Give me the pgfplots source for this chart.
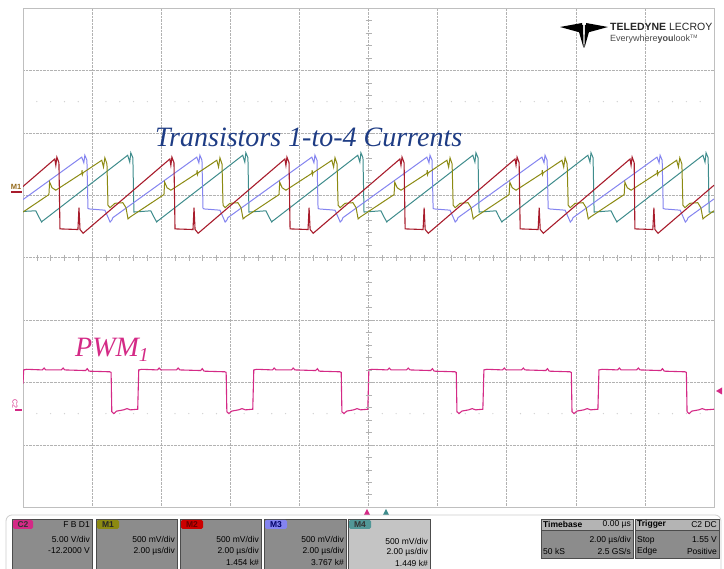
\documentclass[border=0pt]{standalone}
\usepackage{pgfplots}
\pgfplotsset{compat=1.18}
\usepackage{fontspec}
\setmainfont{Liberation Serif}
\newfontfamily\arial{Liberation Sans}
\definecolor{cRed}{HTML}{A81C2C}
\definecolor{cOlive}{HTML}{8C8A12}
\definecolor{cLav}{HTML}{8484F0}
\definecolor{cTeal}{HTML}{3E8C8C}
\definecolor{cPWM}{HTML}{D42A86}
\definecolor{cTitle}{HTML}{1E3C84}
\definecolor{boxgray}{HTML}{8C8C8C}
\definecolor{boxlight}{HTML}{C4C4C4}
\definecolor{hdrgray}{HTML}{B4B4B4}
\begin{document}
\begin{tikzpicture}
\path[use as bounding box, fill=white] (0,0) rectangle (724bp,569bp);
\begin{axis}[at={(23bp,61.8bp)}, anchor=south west, scale only axis,
  width=691bp, height=499.2bp,
  xmin=-10, xmax=10, ymin=-4, ymax=4,
  xtick={-8,-6,...,8}, ytick={-3,-2,...,3},
  x tick label style={opacity=0}, y tick label style={opacity=0},
  major tick length=0pt,
  grid=major, major grid style={densely dotted, gray!60, line width=0.55pt},
  axis line style={gray!50, line width=0.9pt},
  clip=true]
% PWM1 (C2)
\addplot[cPWM, line width=1.1pt] coordinates {
(-10.00,-2.02) (-9.98,-1.80) (-9.89,-1.79) (-9.44,-1.80) (-9.39,-1.77) (-9.34,-1.80) (-8.89,-1.80) (-8.84,-1.77) (-8.79,-1.80) (-8.19,-1.81) (-8.14,-1.78) (-8.09,-1.82) (-7.49,-1.83) (-7.45,-1.84) (-7.43,-2.47) (-7.37,-2.50) (-7.29,-2.46) (-7.09,-2.44) (-6.99,-2.42) (-6.89,-2.44) (-6.68,-2.43)
(-6.65,-1.80) (-6.56,-1.79) (-6.11,-1.80) (-6.06,-1.77) (-6.01,-1.80) (-5.56,-1.80) (-5.51,-1.77) (-5.46,-1.80) (-4.86,-1.81) (-4.81,-1.78) (-4.76,-1.82) (-4.16,-1.83) (-4.12,-1.84) (-4.10,-2.47) (-4.04,-2.50) (-3.96,-2.46) (-3.76,-2.44) (-3.66,-2.42) (-3.56,-2.44) (-3.35,-2.43)
(-3.32,-1.80) (-3.23,-1.79) (-2.78,-1.80) (-2.73,-1.77) (-2.68,-1.80) (-2.23,-1.80) (-2.18,-1.77) (-2.13,-1.80) (-1.53,-1.81) (-1.48,-1.78) (-1.43,-1.82) (-0.83,-1.83) (-0.79,-1.84) (-0.77,-2.47) (-0.71,-2.50) (-0.63,-2.46) (-0.43,-2.44) (-0.33,-2.42) (-0.23,-2.44) (-0.02,-2.43)
(0.01,-1.80) (0.10,-1.79) (0.55,-1.80) (0.60,-1.77) (0.65,-1.80) (1.10,-1.80) (1.15,-1.77) (1.20,-1.80) (1.80,-1.81) (1.85,-1.78) (1.90,-1.82) (2.50,-1.83) (2.54,-1.84) (2.56,-2.47) (2.62,-2.50) (2.70,-2.46) (2.90,-2.44) (3.00,-2.42) (3.10,-2.44) (3.31,-2.43)
(3.34,-1.80) (3.43,-1.79) (3.88,-1.80) (3.93,-1.77) (3.98,-1.80) (4.43,-1.80) (4.48,-1.77) (4.53,-1.80) (5.13,-1.81) (5.18,-1.78) (5.23,-1.82) (5.83,-1.83) (5.87,-1.84) (5.89,-2.47) (5.95,-2.50) (6.03,-2.46) (6.23,-2.44) (6.33,-2.42) (6.43,-2.44) (6.64,-2.43)
(6.67,-1.80) (6.76,-1.79) (7.21,-1.80) (7.26,-1.77) (7.31,-1.80) (7.76,-1.80) (7.81,-1.77) (7.86,-1.80) (8.46,-1.81) (8.51,-1.78) (8.56,-1.82) (9.16,-1.83) (9.20,-1.84) (9.22,-2.47) (9.28,-2.50) (9.36,-2.46) (9.56,-2.44) (9.66,-2.42) (9.76,-2.44) (10.00,-2.43)
};
% M4 teal
\addplot[cTeal, line width=1.0pt] coordinates {
(-10.00,0.74) (-9.63,0.75) (-9.55,0.66) (-9.46,0.57) (-9.43,0.59) (-9.40,0.60)
(-6.97,1.64) (-6.91,1.53) (-6.88,1.68) (-6.82,1.60) (-6.79,0.73) (-6.30,0.75) (-6.22,0.66) (-6.13,0.57) (-6.10,0.59) (-6.07,0.60)
(-3.64,1.64) (-3.58,1.53) (-3.55,1.68) (-3.49,1.60) (-3.46,0.73) (-2.97,0.75) (-2.89,0.66) (-2.80,0.57) (-2.77,0.59) (-2.74,0.60)
(-0.31,1.64) (-0.25,1.53) (-0.22,1.68) (-0.16,1.60) (-0.13,0.73) (0.36,0.75) (0.44,0.66) (0.53,0.57) (0.56,0.59) (0.59,0.60)
(3.02,1.64) (3.08,1.53) (3.11,1.68) (3.17,1.60) (3.20,0.73) (3.69,0.75) (3.77,0.66) (3.86,0.57) (3.89,0.59) (3.92,0.60)
(6.35,1.64) (6.41,1.53) (6.44,1.68) (6.50,1.60) (6.53,0.73) (7.02,0.75) (7.10,0.66) (7.19,0.57) (7.22,0.59) (7.25,0.60)
(9.68,1.64) (9.74,1.53) (9.77,1.68) (9.83,1.60) (9.86,0.73) (10.00,0.73)
};
% M3 lavender
\addplot[cLav, line width=1.0pt] coordinates {
(-10.00,0.93)
(-8.30,1.61) (-8.24,1.52) (-8.21,1.64) (-8.15,1.56) (-8.12,0.79) (-8.09,0.78) (-7.63,0.76) (-7.55,0.66) (-7.48,0.57) (-7.43,0.60) (-7.40,0.64)
(-4.97,1.61) (-4.91,1.52) (-4.88,1.64) (-4.82,1.56) (-4.79,0.79) (-4.76,0.78) (-4.30,0.76) (-4.22,0.66) (-4.15,0.57) (-4.10,0.60) (-4.07,0.64)
(-1.64,1.61) (-1.58,1.52) (-1.55,1.64) (-1.49,1.56) (-1.46,0.79) (-1.43,0.78) (-0.97,0.76) (-0.89,0.66) (-0.82,0.57) (-0.77,0.60) (-0.74,0.64)
(1.69,1.61) (1.75,1.52) (1.78,1.64) (1.84,1.56) (1.87,0.79) (1.90,0.78) (2.36,0.76) (2.44,0.66) (2.51,0.57) (2.56,0.60) (2.59,0.64)
(5.02,1.61) (5.08,1.52) (5.11,1.64) (5.17,1.56) (5.20,0.79) (5.23,0.78) (5.69,0.76) (5.77,0.66) (5.84,0.57) (5.89,0.60) (5.92,0.64)
(8.35,1.61) (8.41,1.52) (8.44,1.64) (8.50,1.56) (8.53,0.79) (8.56,0.78) (9.02,0.76) (9.10,0.66) (9.17,0.57) (9.22,0.60) (9.25,0.64)
(10.00,0.94)
};
% M1 olive
\addplot[cOlive, line width=1.0pt] coordinates {
(-10.00,0.73) (-9.25,1.01) (-9.23,1.21) (-9.16,1.12) (-9.05,1.08) (-8.30,1.35) (-8.29,1.40) (-8.28,1.33) (-8.26,1.36)
(-7.72,1.56) (-7.67,1.45) (-7.63,1.60) (-7.57,1.50) (-7.54,0.84) (-7.48,0.80) (-7.34,0.87) (-7.11,0.88) (-7.02,0.80) (-6.96,0.62) (-6.90,0.65) (-5.92,1.01) (-5.90,1.21) (-5.83,1.12) (-5.72,1.08) (-4.97,1.35) (-4.96,1.40) (-4.95,1.33) (-4.93,1.36)
(-4.39,1.56) (-4.34,1.45) (-4.30,1.60) (-4.24,1.50) (-4.21,0.84) (-4.15,0.80) (-4.01,0.87) (-3.78,0.88) (-3.69,0.80) (-3.63,0.62) (-3.57,0.65) (-2.59,1.01) (-2.57,1.21) (-2.50,1.12) (-2.39,1.08) (-1.64,1.35) (-1.63,1.40) (-1.62,1.33) (-1.60,1.36)
(-1.06,1.56) (-1.01,1.45) (-0.97,1.60) (-0.91,1.50) (-0.88,0.84) (-0.82,0.80) (-0.68,0.87) (-0.45,0.88) (-0.36,0.80) (-0.30,0.62) (-0.24,0.65) (0.74,1.01) (0.76,1.21) (0.83,1.12) (0.94,1.08) (1.69,1.35) (1.70,1.40) (1.71,1.33) (1.73,1.36)
(2.27,1.56) (2.32,1.45) (2.36,1.60) (2.42,1.50) (2.45,0.84) (2.51,0.80) (2.65,0.87) (2.88,0.88) (2.97,0.80) (3.03,0.62) (3.09,0.65) (4.07,1.01) (4.09,1.21) (4.16,1.12) (4.27,1.08) (5.02,1.35) (5.03,1.40) (5.04,1.33) (5.06,1.36)
(5.60,1.56) (5.65,1.45) (5.69,1.60) (5.75,1.50) (5.78,0.84) (5.84,0.80) (5.98,0.87) (6.21,0.88) (6.30,0.80) (6.36,0.62) (6.42,0.65) (7.40,1.01) (7.42,1.21) (7.49,1.12) (7.60,1.08) (8.35,1.35) (8.36,1.40) (8.37,1.33) (8.39,1.36)
(8.92,1.56) (8.97,1.45) (9.01,1.60) (9.07,1.50) (9.10,0.84) (9.16,0.80) (9.30,0.87) (9.53,0.88) (9.62,0.80) (9.68,0.62) (9.74,0.65) (10.00,0.75)
};
% M2 red
\addplot[cRed, line width=1.1pt] coordinates {
(-10.00,1.14)
(-9.08,1.58) (-9.05,1.48) (-9.02,1.61) (-8.96,1.52)
(-8.93,0.46) (-8.41,0.45) (-8.38,0.80) (-8.35,0.45) (-8.29,0.41) (-8.26,0.39)
(-5.75,1.58) (-5.72,1.48) (-5.69,1.61) (-5.63,1.52)
(-5.60,0.46) (-5.08,0.45) (-5.05,0.80) (-5.02,0.45) (-4.96,0.41) (-4.93,0.39)
(-2.42,1.58) (-2.39,1.48) (-2.36,1.61) (-2.30,1.52)
(-2.27,0.46) (-1.75,0.45) (-1.72,0.80) (-1.69,0.45) (-1.63,0.41) (-1.60,0.39)
(0.91,1.58) (0.94,1.48) (0.97,1.61) (1.03,1.52)
(1.06,0.46) (1.58,0.45) (1.61,0.80) (1.64,0.45) (1.70,0.41) (1.73,0.39)
(4.24,1.58) (4.27,1.48) (4.30,1.61) (4.36,1.52)
(4.39,0.46) (4.91,0.45) (4.94,0.80) (4.97,0.45) (5.03,0.41) (5.06,0.39)
(7.57,1.58) (7.60,1.48) (7.63,1.61) (7.69,1.52)
(7.71,0.46) (8.23,0.45) (8.26,0.80) (8.29,0.45) (8.35,0.41) (8.38,0.39)
(10.00,1.16)
};
\end{axis}
\begin{scope}[x=1bp, y=-1bp, yshift=569bp]
 % center line ticks
 \foreach \k in {1,...,39} {\draw[gray!60, line width=0.5pt] (365.5,{8+12.48*\k}) -- (371.5,{8+12.48*\k});}
 \foreach \k in {1,...,49} {\draw[gray!60, line width=0.5pt] ({23+13.82*\k},254.6) -- ({23+13.82*\k},260.6);}
 % faint dot rows
 \foreach \k in {1,...,49} {\fill[gray!35] ({23+13.82*\k},101.6) circle (0.7); \fill[gray!35] ({23+13.82*\k},413.6) circle (0.7);}
 % titles
 \node[anchor=base west, inner sep=0, text=cTitle, font=\itshape\fontsize{28bp}{32bp}\selectfont] at (155,147) {Transistors 1-to-4 Currents};
 \node[anchor=base west, inner sep=0, text=cPWM, font=\itshape\fontsize{28bp}{32bp}\selectfont] at (75,357) {PWM\textsubscript{1}};
 % left markers
 \node[anchor=center, inner sep=0, text=cOlive!70!cRed, font=\arial\bfseries\fontsize{7.5bp}{8bp}\selectfont] at (16,187) {M1};
 \draw[cRed, line width=1.2pt] (11,192) -- (22,192);
 \node[rotate=-90, inner sep=0, text=cPWM, font=\arial\fontsize{7bp}{8bp}\selectfont] at (15,404) {C2};
 \draw[cPWM, line width=1.2pt] (15,410) -- (22,410);
 % right trigger marker
 \fill[cPWM] (716,391) -- (722,387.5) -- (722,394.5) -- cycle;
 % bottom markers
 \fill[cPWM] (367,509) -- (364,515) -- (370,515) -- cycle;
 \fill[cTeal] (386,509) -- (383,515) -- (389,515) -- cycle;
 % logo
 \fill[black] (560,27) -- (582,23) -- (582,33) -- cycle;
 \fill[black] (608,27) -- (586,23) -- (586,33) -- cycle;
 \fill[black] (577,25) -- (583,25) -- (583.6,48) -- cycle;
 \fill[black] (585,25) -- (591,25) -- (584.4,48) -- cycle;
 \node[anchor=base west, inner sep=0, font=\arial\fontsize{10.5bp}{12bp}\selectfont, text=black!85] at (610,31) {\textbf{TELEDYNE} LECROY};
 \node[anchor=base west, inner sep=0, font=\arial\fontsize{9bp}{10bp}\selectfont, text=black!70] at (610,42) {Everywhere\textbf{you}look\textsuperscript{\tiny TM}};
 % status frame
 \draw[gray!40, line width=0.8pt, rounded corners=6] (6,575) -- (6,515) -- (721,515) -- (721,575);
 % channel boxes
 \tikzset{bx/.style={draw=black!70, line width=0.6pt}}
 \filldraw[bx, fill=boxgray] (12,519) rectangle (92,572);
 \filldraw[bx, fill=boxgray] (96,519) rectangle (177,572);
 \filldraw[bx, fill=boxgray] (180,519) rectangle (261,572);
 \filldraw[bx, fill=boxgray] (264,519) rectangle (346,572);
 \filldraw[bx, fill=boxlight] (348,519) rectangle (430,572);
 % tabs
 \fill[rounded corners=1.5, fill=cPWM] (13,520) rectangle (33,529);
 \fill[rounded corners=1.5, fill=cOlive] (97,520) rectangle (119,529);
 \fill[rounded corners=1.5, fill=red!80!black] (181,520) rectangle (203,529);
 \fill[rounded corners=1.5, fill=cLav] (265,520) rectangle (287,529);
 \fill[rounded corners=1.5, fill=cTeal!90] (349,520) rectangle (371,529);
 \tikzset{tb/.style={inner sep=0, font=\arial\bfseries\fontsize{8.5bp}{9bp}\selectfont}}
 \node[tb, text=black!80] at (23,524.5) {C2};
 \node[tb, text=black!85] at (108,524.5) {M1};
 \node[tb, text=red!40!black] at (192,524.5) {M2};
 \node[tb, text=blue!40!black] at (276,524.5) {M3};
 \node[tb, text=black!80] at (360,524.5) {M4};
 \tikzset{st/.style={inner sep=0, font=\arial\fontsize{8.5bp}{9bp}\selectfont, text=black}}
 \node[st, anchor=east] at (90,525) {F B D1};
 \node[st, anchor=east] at (90,539) {5.00 V/div};
 \node[st, anchor=east] at (90,551) {-12.2000 V};
 \node[st, anchor=east] at (175,539) {500 mV/div};
 \node[st, anchor=east] at (175,551) {2.00 µs/div};
 \node[st, anchor=east] at (259,539) {500 mV/div};
 \node[st, anchor=east] at (259,551) {2.00 µs/div};
 \node[st, anchor=east] at (259,562) {1.454 k\#};
 \node[st, anchor=east] at (344,539) {500 mV/div};
 \node[st, anchor=east] at (344,551) {2.00 µs/div};
 \node[st, anchor=east] at (344,562) {3.767 k\#};
 \node[st, anchor=east] at (428,541) {500 mV/div};
 \node[st, anchor=east] at (428,552) {2.00 µs/div};
 \node[st, anchor=east] at (428,563) {1.449 k\#};
 % timebase
 \filldraw[bx, fill=boxgray] (541,519) rectangle (633,558);
 \filldraw[bx, fill=hdrgray] (541,519) rectangle (633,530);
 \filldraw[bx, fill=boxgray] (635,519) rectangle (719,558);
 \filldraw[bx, fill=hdrgray] (635,519) rectangle (719,530);
 \node[st, anchor=west, font=\arial\bfseries\fontsize{8.5bp}{9bp}\selectfont] at (543,524.5) {Timebase};
 \node[st, anchor=east] at (631,524.5) {0.00 µs};
 \node[st, anchor=east] at (631,540) {2.00 µs/div};
 \node[st, anchor=west] at (543,551) {50 kS};
 \node[st, anchor=east] at (631,551) {2.5 GS/s};
 \node[st, anchor=west, font=\arial\bfseries\fontsize{8.5bp}{9bp}\selectfont] at (637,524.5) {Trigger};
 \node[st, anchor=east] at (717,524.5) {C2 DC};
 \node[st, anchor=west] at (637,540) {Stop};
 \node[st, anchor=east] at (717,540) {1.55 V};
 \node[st, anchor=west] at (637,551) {Edge};
 \node[st, anchor=east] at (717,551) {Positive};
\end{scope}
\end{tikzpicture}
\end{document}
